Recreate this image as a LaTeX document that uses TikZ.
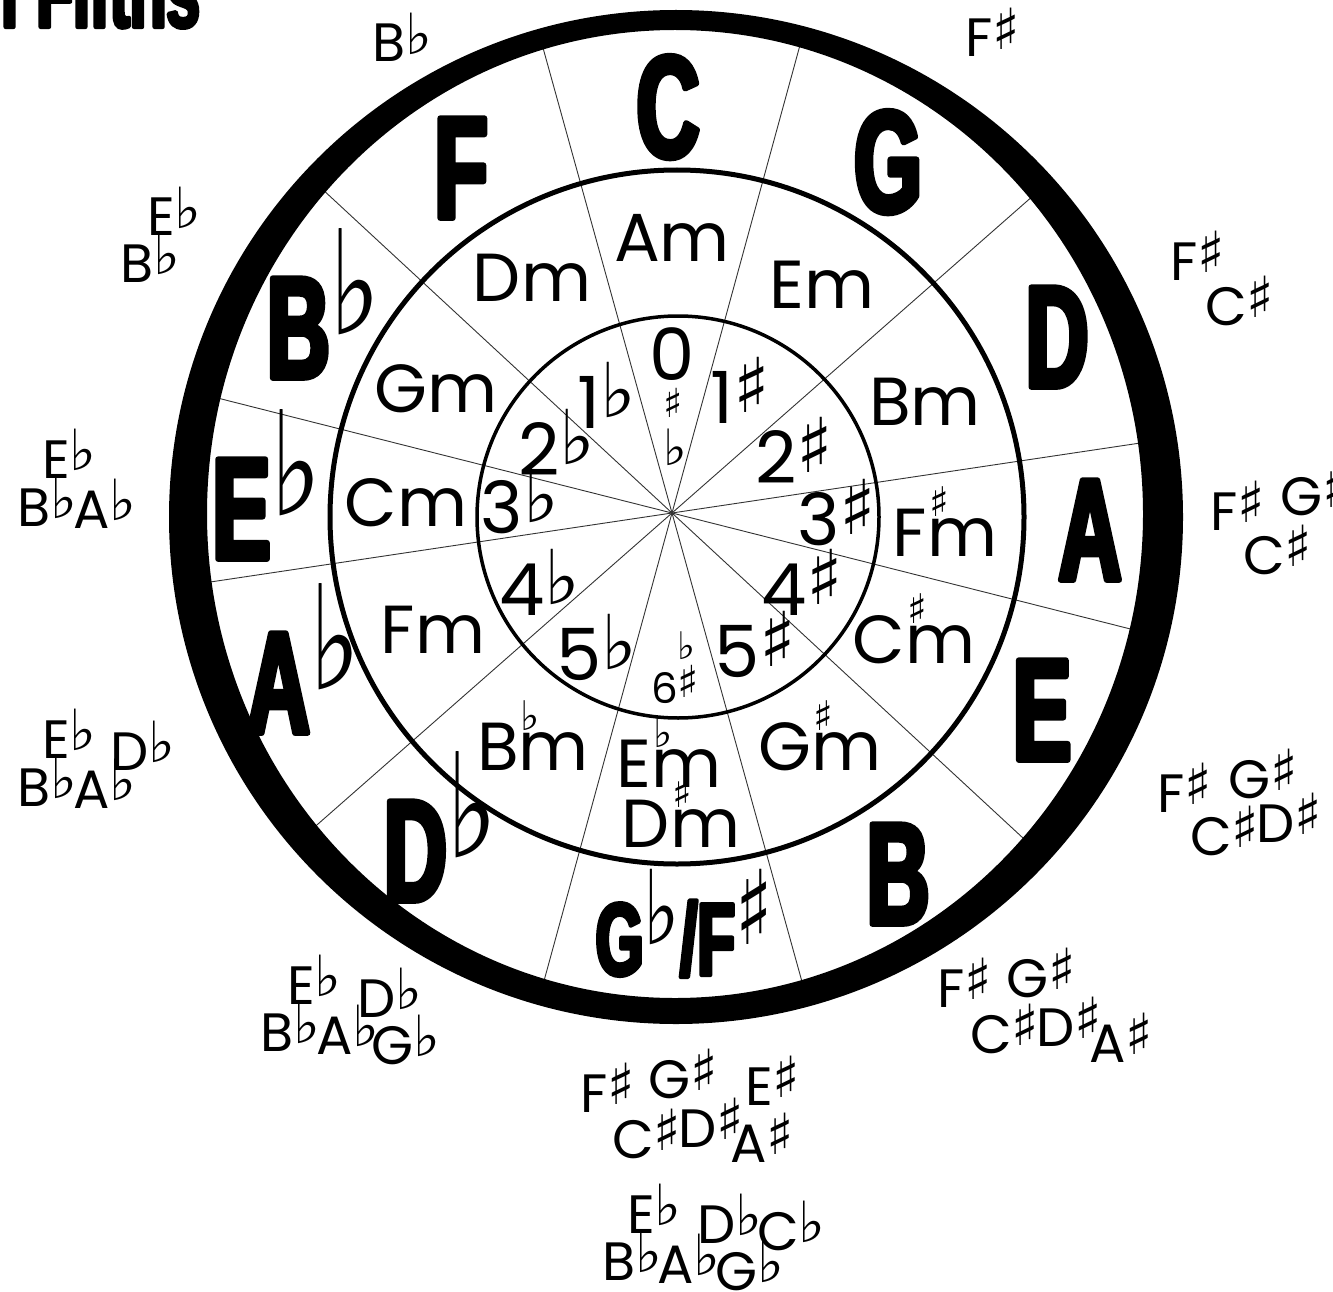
\documentclass[tikz,border=0pt]{standalone}
\usepackage{fontspec}
\setmainfont{Poppins}
\newfontfamily\keyfont[FakeStretch=0.6,BoldFeatures={FakeBold=4}]{Liberation Sans}
\newfontfamily\accfont{DejaVu Sans}
\newcommand\fl{{\accfont\char"266D}}
\newcommand\sh{{\accfont\char"266F}}
\newcommand\up[1]{\raisebox{.14em}{\scalebox{1.05}{#1}}}
\newcommand\minacc[1]{\rlap{\hspace{.03em}\raisebox{.58em}{\scalebox{.6}{#1}}}}
\newcommand\bigacc[1]{\raisebox{.3em}{\scalebox{.75}[1]{#1}}}
\begin{document}
\begin{tikzpicture}[x=1pt,y=-1pt,line cap=round,line join=round]
\useasboundingbox (0,0) rectangle (1333,1292);
\clip (0,0) rectangle (1333,1292);
\path[fill=white] (0,0) rectangle (1333,1292);
\tikzset{spoke/.style={draw=black!80,line width=0.9pt},ring/.style={draw=black,line width=#1},
 major/.style={font=\keyfont\bfseries\fontsize{145}{145}\selectfont,inner sep=0pt,anchor=base},
 majorsm/.style={major,font=\keyfont\bfseries\fontsize{103}{103}\selectfont},
 minor/.style={font=\fontsize{68}{68}\selectfont,inner sep=0pt,anchor=base},
 count/.style={font=\fontsize{72}{72}\selectfont,inner sep=0pt,anchor=base},
 sig/.style={font=\fontsize{54}{54}\selectfont,inner sep=0pt,anchor=base west}}
\node[font=\keyfont\bfseries\fontsize{100}{100}\selectfont,inner sep=0pt,anchor=base east] (title) at (200,27) {Circle of Fifths};
\coordinate (hub) at (672,513);
\foreach \a in {8.5,41.3,74.7,105.5,137.2,165.8} \draw[spoke] (hub) -- +(-\a:490) (hub) -- +(180-\a:490);
\draw[ring=3.5pt] (678,517) circle (201); \draw[ring=5pt] (677,517) circle (347);
\fill[even odd rule] (676,517) circle (507) (675,514) ellipse [x radius=468,y radius=484];
\node[major] (kC) at (668,157) {C}; \node[major] (kG) at (888,212) {G}; \node[major] (kD) at (1057,387) {D};
\node[major] (kA) at (1090,580) {A}; \node[major] (kE) at (1042,760) {E}; \node[major] (kB) at (898,924) {B};
\node[majorsm] (kGb) at (684,975) {G\bigacc{\fl}/F\bigacc{\sh}};
\node[major] (kDb) at (441,901) {D\bigacc{\fl}}; \node[major] (kAb) at (304,733) {A\bigacc{\fl}};
\node[major] (kEb) at (267,559) {E\bigacc{\fl}}; \node[major] (kBb) at (324,378) {B\bigacc{\fl}}; \node[major] (kF) at (461,218) {F};
\node[minor] (mA) at (672,261) {Am}; \node[minor] (mE) at (822,308) {Em}; \node[minor] (mB) at (925,425) {Bm};
\node[minor] (mFs) at (945,556) {F\minacc{\sh}m}; \node[minor] (mCs) at (914,663) {C\minacc{\sh}m}; \node[minor] (mGs) at (820,770) {G\minacc{\sh}m};
\node[minor] (mEb) at (669,787) {E\minacc{\fl}m}; \node[minor] (mDs) at (681,847) {D\minacc{\sh}m}; \node[minor] (mBb) at (533,770) {B\minacc{\fl}m};
\node[minor] (mF) at (433,653) {Fm}; \node[minor] (mC) at (406,526) {Cm}; \node[minor] (mG) at (436,412) {Gm}; \node[minor] (mD) at (532,301) {Dm};
\node[count] (n0) at (672,380) {0};
\node[inner sep=0pt,font=\fontsize{40}{40}\selectfont] (n0s) at (673,403) {\sh}; \node[inner sep=0pt,font=\fontsize{50}{50}\selectfont] (n0f) at (675,447) {\fl};
\node[count] (n1f) at (607,428) {1\up{\fl}}; \node[count] (n1s) at (740,423) {1\up{\sh}};
\node[count] (n2f) at (557,475) {2\up{\fl}}; \node[count] (n2s) at (794,483) {2\up{\sh}};
\node[count] (n3f) at (520,533) {3\up{\fl}}; \node[count] (n3s) at (837,545) {3\up{\sh}};
\node[count] (n4f) at (540,615) {4\up{\fl}}; \node[count] (n4s) at (802,615) {4\up{\sh}};
\node[count] (n5f) at (597,680) {5\up{\fl}}; \node[count] (n5s) at (755,677) {5\up{\sh}};
\node[count,font=\fontsize{42}{42}\selectfont] (n6s) at (675,703) {6\up{\sh}}; \node[inner sep=0pt,font=\fontsize{38}{38}\selectfont] (n6f) at (686,646) {\fl};
\foreach \x/\y/\t [count=\i] in {372/62/B\up{\fl},965/57/F\up{\sh},
 147/236/E\up{\fl},120/282/B\up{\fl},1170/280/F\up{\sh},1205/325/C\up{\sh},
 42/478/E\up{\fl},17/526/B\up{\fl},73/528/A\up{\fl},1210/530/F\up{\sh},1280/515/G\up{\sh},1243/574/C\up{\sh},
 42/758/E\up{\fl},110/770/D\up{\fl},17/806/B\up{\fl},73/808/A\up{\fl},
 1157/812/F\up{\sh},1228/798/G\up{\sh},1190/855/C\up{\sh},1256/842/D\up{\sh},
 287/1004/E\up{\fl},357/1017/D\up{\fl},260/1051/B\up{\fl},316/1054/A\up{\fl},371/1064/G\up{\fl},
 937/1007/F\up{\sh},1006/997/G\up{\sh},970/1053/C\up{\sh},1036/1046/D\up{\sh},1089/1062/A\up{\sh},
 580/1112/F\up{\sh},648/1098/G\up{\sh},745/1105/E\up{\sh},612/1158/C\up{\sh},678/1147/D\up{\sh},730/1162/A\up{\sh},
 627/1233/E\up{\fl},697/1243/D\up{\fl},757/1250/C\up{\fl},602/1280/B\up{\fl},657/1283/A\up{\fl},715/1290/G\up{\fl}}
 \node[sig] (sig\i) at (\x,\y) {\t};
\end{tikzpicture}
\end{document}
